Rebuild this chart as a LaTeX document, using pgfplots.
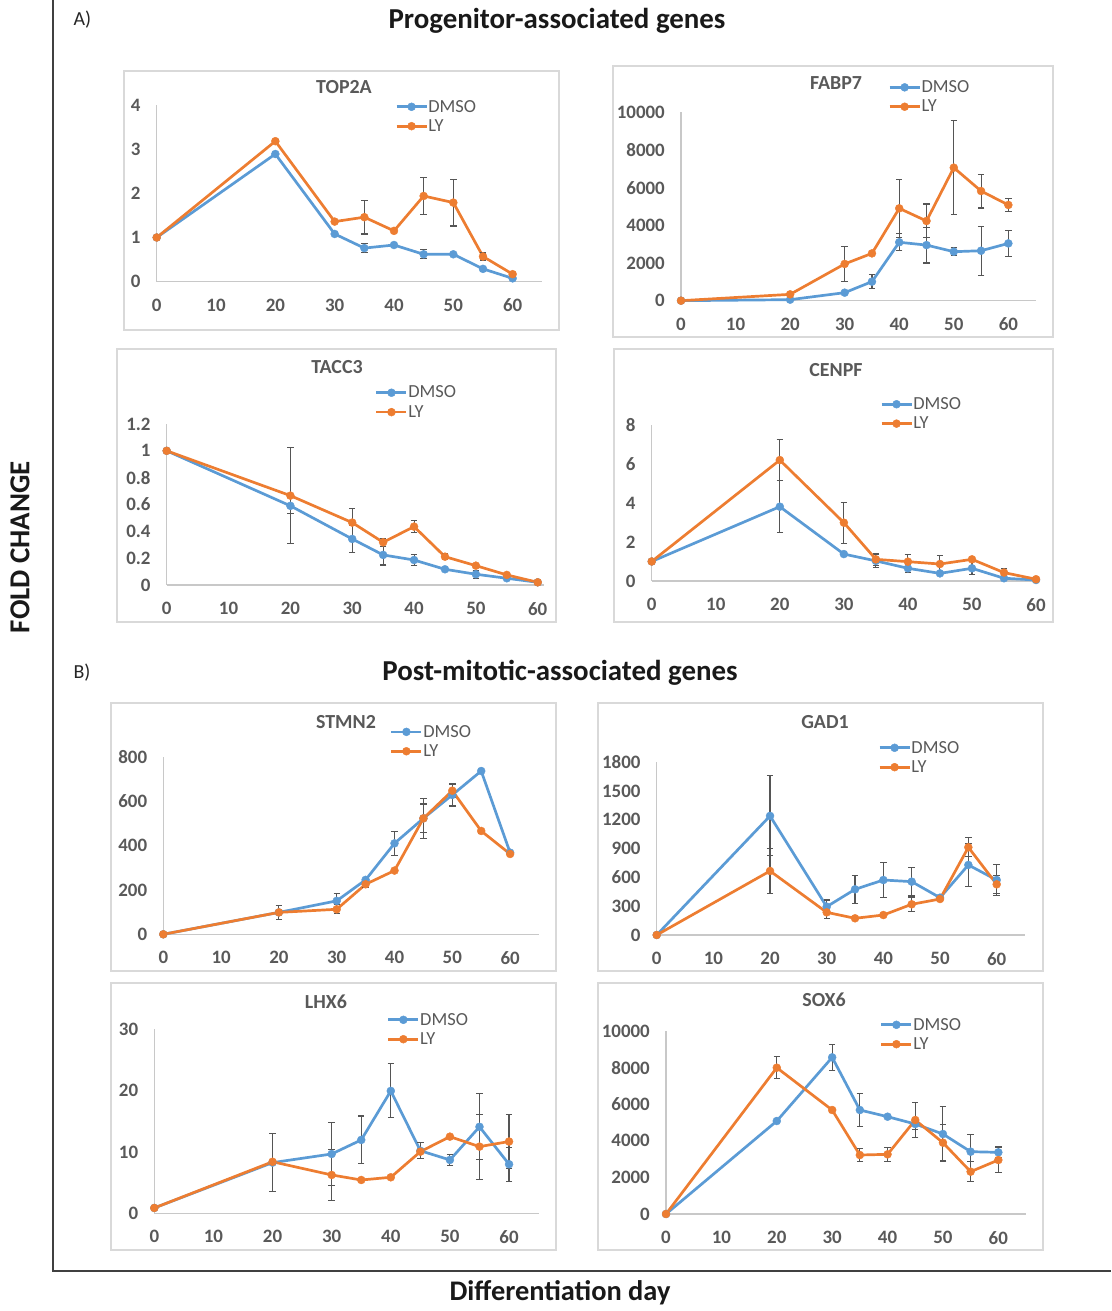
\documentclass[border=0pt]{standalone}
\usepackage{fontspec}
\setmainfont{Carlito}
\usepackage{pgfplots}
\pgfplotsset{compat=1.18}
\definecolor{dmsoblue}{HTML}{5B9BD5}
\definecolor{lyorange}{HTML}{ED7D31}
\definecolor{tickgray}{HTML}{595959}
\definecolor{axgray}{HTML}{C8C8C8}
\definecolor{boxgray}{HTML}{D9D9D9}
\definecolor{errgray}{HTML}{555555}
\definecolor{framegray}{HTML}{404040}
\pgfplotsset{
  gene/.style={
    scale only axis,
    anchor=south west,
    axis x line*=bottom, axis y line*=left,
    axis line style={draw=axgray, line width=1.3bp, -},
    xmin=0, xtick={0,10,...,60},
    ymin=0,
    major tick length=0pt,
    tick style={draw=none},
    ticklabel style={font=\bfseries\fontsize{19}{19}\selectfont, text=tickgray},
    xticklabel style={inner sep=1bp, yshift=-16bp},
    yticklabel style={inner sep=1bp, xshift=-15bp},
    /pgf/number format/assume math mode=true,
    /pgf/number format/1000 sep={},
    scaled ticks=false,
    clip=false,
    legend cell align=left,
    legend style={draw=none, fill=none, anchor=west, inner sep=0pt,
      font=\fontsize{18.5}{18.5}\selectfont, text=tickgray, row sep=5bp,
      nodes={inner sep=0.5bp}},
    legend image code/.code={\draw[mark repeat=2, mark phase=2, ##1] plot coordinates {(0bp,0bp) (15bp,0bp) (30bp,0bp)};},
  },
  ser/.style={color=#1, line width=2.7bp, mark=*, mark size=4bp,
    mark options={solid, fill=#1, draw=#1, line width=0.4bp},
    /pgfplots/error bars/y dir=both, /pgfplots/error bars/y explicit,
    /pgfplots/error bars/error mark=|,
    /pgfplots/error bars/error bar style={line width=1.1bp, draw=errgray},
    /pgfplots/error bars/error mark options={line width=1.1bp, mark size=3.2bp, draw=errgray}},
}
\begin{document}
\begin{tikzpicture}[x=1bp, y=1bp]
\useasboundingbox (0,0) rectangle (1111,1311);
% frame
\draw[framegray, line width=1.6bp] (53,1311) -- (53,40) -- (1111,40);
% panel boxes
\begin{scope}[boxgray, line width=1.3bp]
\draw (124,1240) rectangle (559,981);
\draw (613,1245) rectangle (1053,974);
\draw (117,962) rectangle (556,689);
\draw (614,962) rectangle (1053,689);
\draw (111,608) rectangle (556,340);
\draw (598,608) rectangle (1043,340);
\draw (111,328) rectangle (556,61);
\draw (598,328) rectangle (1043,61);
\end{scope}
% headings
\node[anchor=west, font=\fontsize{20}{20}\selectfont, text=black!85] at (70,1291) {A)};
\node[anchor=west, font=\fontsize{20}{20}\selectfont, text=black!85] at (70,638) {B)};
\node[font=\bfseries\fontsize{29}{29}\selectfont, text=black!90] at (557,1290) {Progenitor-associated genes};
\node[font=\bfseries\fontsize{29}{29}\selectfont, text=black!90] at (560,638) {Post-mitotic-associated genes};
\node[rotate=90, font=\bfseries\fontsize{29}{29}\selectfont, text=black!90] at (20,764) {FOLD CHANGE};
\node[font=\bfseries\fontsize{28.5}{28.5}\selectfont, text=black!90] at (560,18) {Differentiation day};
% panel titles
\begin{scope}[every node/.style={font=\bfseries\fontsize{20}{20}\selectfont, text=tickgray}]
\node at (344,1224) {TOP2A};
\node at (836,1228) {FABP7};
\node at (337,944) {TACC3};
\node at (836,941) {CENPF};
\node at (346,589) {STMN2};
\node at (825,589) {GAD1};
\node at (326,309) {LHX6};
\node at (824,311) {SOX6};
\end{scope}

% TOP2A
\begin{axis}[gene, at={(156.7bp,1029.3bp)}, width=385.6bp, height=176.7bp,
  xmax=65, ymax=4, ytick={0,1,2,3,4},
  legend style={at={(0.618,0.935)}}]
\addplot[ser=dmsoblue] table[x=x, y=y, y error=e, row sep=\\] {x y e\\ 0 1 0\\ 20 2.89 0\\ 30 1.08 0\\ 35 0.76 0.1\\ 40 0.83 0\\ 45 0.62 0.1\\ 50 0.62 0\\ 55 0.29 0.05\\ 60 0.075 0\\};
\addplot[ser=lyorange] table[x=x, y=y, y error=e, row sep=\\] {x y e\\ 0 1 0\\ 20 3.18 0.03\\ 30 1.36 0\\ 35 1.46 0.38\\ 40 1.15 0\\ 45 1.94 0.42\\ 50 1.79 0.53\\ 55 0.57 0.08\\ 60 0.17 0\\};
\legend{DMSO,LY}
\end{axis}

% FABP7
\begin{axis}[gene, at={(681bp,1010.3bp)}, width=354.6bp, height=188.4bp,
  xmax=65, ymax=10000, ytick={0,2000,...,10000},
  legend style={at={(0.584,1.081)}}]
\addplot[ser=dmsoblue] table[x=x, y=y, y error=e, row sep=\\] {x y e\\ 0 0 0\\ 20 53 0\\ 30 425 0\\ 35 1010 370\\ 40 3100 450\\ 45 2950 950\\ 50 2600 200\\ 55 2650 1300\\ 60 3040 700\\};
\addplot[ser=lyorange] table[x=x, y=y, y error=e, row sep=\\] {x y e\\ 0 0 0\\ 20 336 0\\ 30 1950 910\\ 35 2510 100\\ 40 4900 1550\\ 45 4230 900\\ 50 7060 2500\\ 55 5820 900\\ 60 5080 340\\};
\legend{DMSO,LY}
\end{axis}

% TACC3
\begin{axis}[gene, at={(166.7bp,726bp)}, width=377.2bp, height=161bp,
  xmax=61, ymax=1.2, ytick={0,0.2,0.4,0.6,0.8,1,1.2},
  legend style={at={(0.552,1.134)}}]
\addplot[ser=dmsoblue] table[x=x, y=y, y error=e, row sep=\\] {x y e\\ 0 1 0\\ 20 0.59 0.06\\ 30 0.343 0.1\\ 35 0.224 0.075\\ 40 0.186 0.04\\ 45 0.117 0\\ 50 0.08 0.03\\ 55 0.05 0\\ 60 0.02 0\\};
\addplot[ser=lyorange] table[x=x, y=y, y error=e, row sep=\\] {x y e\\ 0 1 0\\ 20 0.666 0.36\\ 30 0.465 0.105\\ 35 0.318 0.03\\ 40 0.435 0.045\\ 45 0.211 0.02\\ 50 0.144 0\\ 55 0.075 0\\ 60 0.02 0\\};
\legend{DMSO,LY}
\end{axis}

% CENPF
\begin{axis}[gene, at={(651.7bp,730bp)}, width=384.3bp, height=156bp,
  xmax=60, ymax=8, ytick={0,2,4,6,8},
  legend style={at={(0.594,1.071)}}]
\addplot[ser=dmsoblue] table[x=x, y=y, y error=e, row sep=\\] {x y e\\ 0 1 0\\ 20 3.81 1.33\\ 30 1.38 0\\ 35 1.03 0.35\\ 40 0.65 0.22\\ 45 0.39 0\\ 50 0.65 0.33\\ 55 0.14 0\\ 60 0.05 0\\};
\addplot[ser=lyorange] table[x=x, y=y, y error=e, row sep=\\] {x y e\\ 0 1 0\\ 20 6.2 1.06\\ 30 2.99 1.05\\ 35 1.11 0.3\\ 40 0.99 0.37\\ 45 0.87 0.45\\ 50 1.11 0\\ 55 0.43 0.2\\ 60 0.09 0\\};
\legend{DMSO,LY}
\end{axis}

% STMN2
\begin{axis}[gene, at={(163.3bp,376.7bp)}, width=375.7bp, height=177bp,
  xmax=65, ymax=800, ytick={0,200,...,800},
  legend style={at={(0.603,1.089)}}]
\addplot[ser=dmsoblue] table[x=x, y=y, y error=e, row sep=\\] {x y e\\ 0 0 0\\ 20 99 32\\ 30 151 35\\ 35 246 0\\ 40 411 55\\ 45 524 90\\ 50 630 50\\ 55 738 0\\ 60 369 0\\};
\addplot[ser=lyorange] table[x=x, y=y, y error=e, row sep=\\] {x y e\\ 0 0 0\\ 20 99 0\\ 30 113 20\\ 35 226 15\\ 40 288 0\\ 45 524 65\\ 50 649 30\\ 55 467 12\\ 60 363 0\\};
\legend{DMSO,LY}
\end{axis}

% GAD1
\begin{axis}[gene, at={(656.7bp,376bp)}, width=368.3bp, height=172.7bp,
  xmax=65, ymax=1800, ytick={0,300,...,1800},
  legend style={at={(0.601,1.028)}}]
\addplot[ser=dmsoblue] table[x=x, y=y, y error=e, row sep=\\] {x y e\\ 0 0 0\\ 20 1241 417\\ 30 295 70\\ 35 476 145\\ 40 573 185\\ 45 556 150\\ 50 389 0\\ 55 730 220\\ 60 573 165\\};
\addplot[ser=lyorange] table[x=x, y=y, y error=e, row sep=\\] {x y e\\ 0 0 0\\ 20 667 230\\ 30 236 60\\ 35 174 0\\ 40 208 0\\ 45 320 75\\ 50 375 20\\ 55 914 100\\ 60 528 95\\};
\legend{DMSO,LY}
\end{axis}

% LHX6
\begin{axis}[gene, at={(154.3bp,97.7bp)}, width=384.3bp, height=184bp,
  xmax=65, ymax=30, ytick={0,10,20,30},
  legend style={at={(0.605,0.999)}}]
\addplot[ser=dmsoblue] table[x=x, y=y, y error=e, row sep=\\] {x y e\\ 0 0.87 0\\ 20 8.26 4.7\\ 30 9.67 5.1\\ 35 11.96 3.9\\ 40 19.95 4.4\\ 45 10.2 1.3\\ 50 8.7 0.9\\ 55 14.1 5.4\\ 60 8.0 2.8\\};
\addplot[ser=lyorange] table[x=x, y=y, y error=e, row sep=\\] {x y e\\ 0 0.87 0\\ 20 8.4 0\\ 30 6.25 4.2\\ 35 5.43 0\\ 40 5.87 0\\ 45 10.05 0\\ 50 12.5 0\\ 55 10.87 5.3\\ 60 11.7 4.4\\};
\legend{DMSO,LY}
\end{axis}

% SOX6
\begin{axis}[gene, at={(666bp,97bp)}, width=360bp, height=183bp,
  xmax=65, ymax=10000, ytick={0,2000,...,10000},
  legend style={at={(0.594,0.981)}}]
\addplot[ser=dmsoblue] table[x=x, y=y, y error=e, row sep=\\] {x y e\\ 0 0 0\\ 20 5081 0\\ 30 8559 700\\ 35 5682 910\\ 40 5317 0\\ 45 4917 300\\ 50 4370 1490\\ 55 3405 950\\ 60 3369 300\\};
\addplot[ser=lyorange] table[x=x, y=y, y error=e, row sep=\\] {x y e\\ 0 0 0\\ 20 7994 600\\ 30 5682 150\\ 35 3223 350\\ 40 3260 380\\ 45 5135 950\\ 50 3897 1000\\ 55 2313 550\\ 60 2950 680\\};
\legend{DMSO,LY}
\end{axis}
\end{tikzpicture}
\end{document}
